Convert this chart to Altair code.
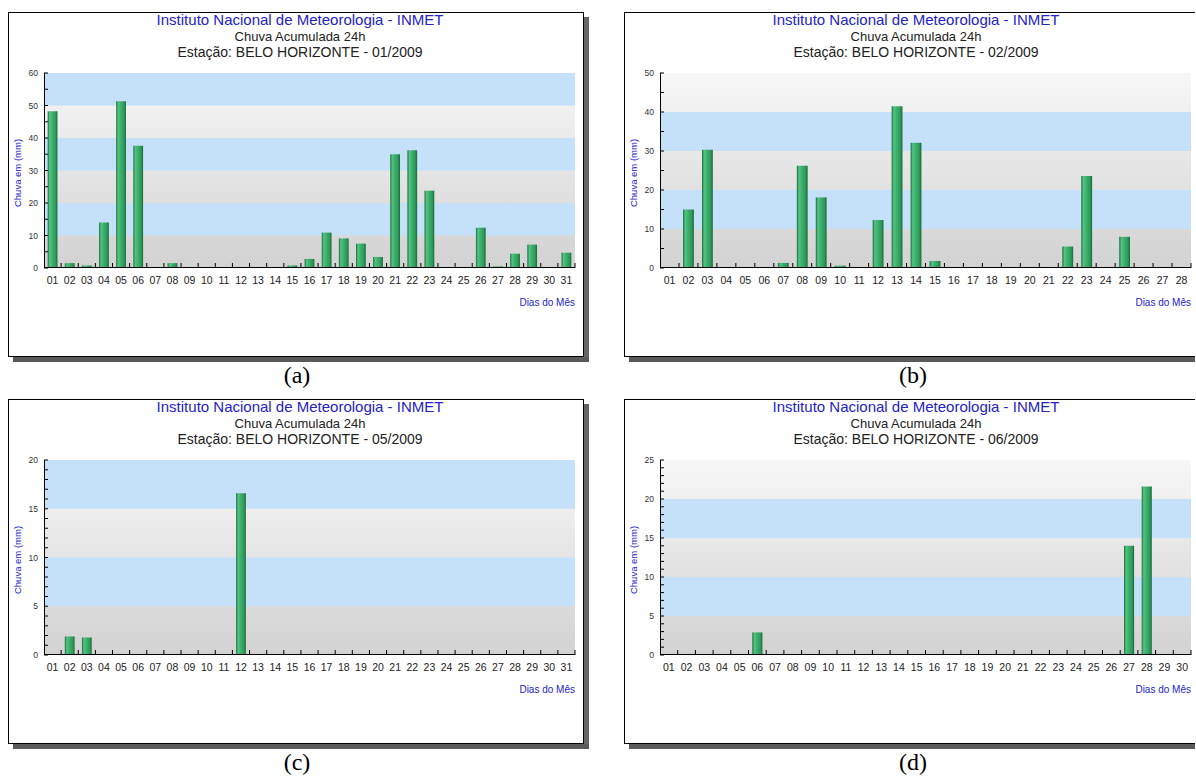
import altair as alt
import pandas as pd

# ---------------- data ----------------
DAYS_31 = ["01", "02", "03", "04", "05", "06", "07", "08", "09", "10", "11", "12", "13", "14", "15", "16",
           "17", "18", "19", "20", "21", "22", "23", "24", "25", "26", "27", "28", "29", "30", "31"]
DAYS_28 = DAYS_31[:28]
DAYS_30 = DAYS_31[:30]

JAN = [48.2, 1.5, 0.8, 14.0, 51.3, 37.6, 0, 1.5, 0, 0, 0, 0, 0, 0, 0.8, 2.8,
       10.9, 9.1, 7.5, 3.4, 35.0, 36.2, 23.8, 0, 0, 12.4, 0.5, 4.4, 7.2, 0, 4.7]
FEB = [0, 15.0, 30.3, 0, 0, 0, 1.3, 26.2, 18.1, 0.6, 0, 12.3, 41.5, 32.1, 1.8, 0,
       0, 0, 0, 0, 0, 5.5, 23.6, 0, 8.0, 0, 0, 0]
MAY = [0, 1.9, 1.8, 0, 0, 0, 0, 0, 0, 0, 0, 16.6, 0, 0, 0, 0,
       0, 0, 0, 0, 0, 0, 0, 0, 0, 0, 0, 0, 0, 0, 0]
JUN = [0, 0, 0, 0, 0, 2.9, 0, 0, 0, 0, 0, 0, 0, 0, 0, 0,
       0, 0, 0, 0, 0, 0, 0, 0, 0, 0, 14.0, 21.6, 0, 0]

STATION_LINES = ["Estação: BELO HORIZONTE - 01/2009", "Estação: BELO HORIZONTE - 02/2009",
                 "Estação: BELO HORIZONTE - 05/2009", "Estação: BELO HORIZONTE - 06/2009"]
TAGS = ["(a)", "(b)", "(c)", "(d)"]
Y_MAX = [60, 50, 20, 25]
Y_LABELS = [[0, 10, 20, 30, 40, 50, 60], [0, 10, 20, 30, 40, 50],
            [0, 5, 10, 15, 20], [0, 5, 10, 15, 20, 25]]
Y_TICKS = [[0, 5, 10, 15, 20, 25, 30, 35, 40, 45, 50, 55, 60],
           [0, 5, 10, 15, 20, 25, 30, 35, 40, 45, 50],
           [0, 1, 2, 3, 4, 5, 6, 7, 8, 9, 10, 11, 12, 13, 14, 15, 16, 17, 18, 19, 20],
           [0, 1, 2, 3, 4, 5, 6, 7, 8, 9, 10, 11, 12, 13, 14, 15, 16, 17, 18, 19, 20,
            21, 22, 23, 24, 25]]
BLUE_LO = [[10, 30, 50], [10, 30], [5, 15], [5, 15]]
BLUE_HI = [[20, 40, 60], [20, 40], [10, 20], [10, 20]]

TITLE1 = "Instituto Nacional de Meteorologia - INMET"
TITLE2 = "Chuva Acumulada 24h"
Y_TITLE = "Chuva em (mm)"
X_TITLE = "Dias do Mês"

W, H = 531, 195
SANS = "Liberation Sans"
SERIF = "Liberation Serif"
BLUE_TXT = "#2323c8"

bar_grad = alt.Gradient(
    gradient="linear", x1=0, x2=1, y1=0, y2=0,
    stops=[alt.GradientStop(color="#1d6b3c", offset=0),
           alt.GradientStop(color="#52c483", offset=0.2),
           alt.GradientStop(color="#3fb06e", offset=0.45),
           alt.GradientStop(color="#2c9a58", offset=0.8),
           alt.GradientStop(color="#1b663a", offset=1)])
bg_grad = alt.Gradient(
    gradient="linear", x1=0, x2=0, y1=0, y2=1,
    stops=[alt.GradientStop(color="#f7f7f7", offset=0),
           alt.GradientStop(color="#d2d2d2", offset=1)])


def one_row():
    return pd.DataFrame({"k": [0]})


def text_layer(s, x, y, size, color, font=SANS, align="center", angle=0):
    return alt.Chart(pd.DataFrame({"s": [s]})).mark_text(
        fontSize=size, color=color, font=font, align=align, baseline="middle", angle=angle
    ).encode(text="s:N", x=alt.value(x), y=alt.value(y))


def rule_layer(x, x2, y, y2, color="#000000"):
    return alt.Chart(one_row()).mark_rule(color=color, strokeWidth=1).encode(
        x=alt.value(x), x2=alt.value(x2), y=alt.value(y), y2=alt.value(y2))


def rect_layer(x, x2, y, y2, fill, opacity=1):
    return alt.Chart(one_row()).mark_rect(fill=fill, opacity=opacity).encode(
        x=alt.value(x), x2=alt.value(x2), y=alt.value(y), y2=alt.value(y2))


def panel(idx, days, vals, left_col, first):
    ymax = Y_MAX[idx]
    xs = alt.Scale(type="band", domain=days, paddingInner=0, paddingOuter=0)
    ys = alt.Scale(domain=[0, ymax], nice=False, zero=True)
    df = pd.DataFrame({"day": days, "mm": vals})
    layers = []
    if first:
        # invisible canvas-size rect fixing the page extent
        layers.append(rect_layer(-44, 1152, -73, 710, "#ffffff", opacity=0))
    fl, ft, fb = -36, -61, 284
    fr = 540 if left_col else 535
    # drop shadow (right + bottom strips)
    if left_col:
        layers.append(rect_layer(fr, fr + 5, ft + 5, fb + 5, "#666666"))
        layers.append(rect_layer(fl + 5, fr + 5, fb, fb + 5, "#5a5a5a"))
    else:
        layers.append(rect_layer(fl + 5, fr, fb, fb + 5, "#5a5a5a"))
    # frame
    layers.append(rule_layer(fl, fr, ft + 0.5, ft + 0.5))
    layers.append(rule_layer(fl, fr, fb - 0.5, fb - 0.5))
    layers.append(rule_layer(fl + 0.5, fl + 0.5, ft, fb))
    if left_col:
        layers.append(rule_layer(fr - 0.5, fr - 0.5, ft, fb))
    # plot background
    layers.append(alt.Chart(one_row()).mark_rect(fill=bg_grad).encode(
        x=alt.value(0), x2=alt.value(W),
        y=alt.Y("lo:Q", scale=ys, axis=None), y2="hi:Q"
    ).transform_calculate(lo="0", hi=str(ymax)))
    bands = pd.DataFrame({"lo": BLUE_LO[idx], "hi": BLUE_HI[idx]})
    layers.append(alt.Chart(bands).mark_rect(fill="#c5e1fa").encode(
        x=alt.value(0), x2=alt.value(W),
        y=alt.Y("lo:Q", scale=ys, axis=None), y2="hi:Q"))
    # bars
    layers.append(alt.Chart(df).transform_filter("datum.mm > 0").mark_bar(
        fill=bar_grad, width=alt.RelativeBandSize(0.57)
    ).encode(
        x=alt.X("day:O", scale=xs, sort=days, axis=None),
        y=alt.Y("mm:Q", scale=ys, axis=None)))
    # axis lines
    layers.append(rule_layer(0.5, 0.5, 0, H))
    layers.append(rule_layer(0, W, H - 0.5, H - 0.5))
    # x ticks (at band boundaries, pointing up)
    layers.append(alt.Chart(df).mark_rule(color="#000000", strokeWidth=1).encode(
        x=alt.X("day:O", scale=xs, sort=days, bandPosition=1, axis=None),
        y=alt.value(H), y2=alt.value(H - 5)))
    # y ticks (pointing inward)
    layers.append(alt.Chart(pd.DataFrame({"t": Y_TICKS[idx]})).mark_rule(
        color="#000000", strokeWidth=1
    ).encode(y=alt.Y("t:Q", scale=ys, axis=None), x=alt.value(0), x2=alt.value(4)))
    # x tick labels (day numbers) placed through the band scale
    layers.append(alt.Chart(df).mark_text(
        font=SANS, fontSize=10.5, color="#222222", align="center", baseline="middle"
    ).encode(x=alt.X("day:O", scale=xs, sort=days, bandPosition=0.5, axis=None),
             y=alt.value(H + 13), text="day:N"))
    # y tick labels placed through the linear scale
    layers.append(alt.Chart(pd.DataFrame({"v": Y_LABELS[idx]})).mark_text(
        font=SANS, fontSize=8.5, color="#333333", align="right", baseline="middle"
    ).encode(y=alt.Y("v:Q", scale=ys, axis=None), x=alt.value(-6), text="v:Q"))
    # texts
    cx = 256
    layers.append(text_layer(TITLE1, cx, -53, 15, BLUE_TXT))
    layers.append(text_layer(TITLE2, cx, -36, 13, "#222222"))
    layers.append(text_layer(STATION_LINES[idx], cx, -20, 14, "#222222"))
    layers.append(text_layer(Y_TITLE, -26, 100, 9.5, BLUE_TXT, angle=270))
    layers.append(text_layer(X_TITLE, W, H + 35, 10, BLUE_TXT, align="right"))
    layers.append(text_layer(TAGS[idx], 253, 303, 24, "#000000", font=SERIF))
    return alt.layer(*layers).properties(width=W, height=H)


pa = panel(0, DAYS_31, JAN, True, True)
pb = panel(1, DAYS_28, FEB, False, False)
pc = panel(2, DAYS_31, MAY, True, False)
pdd = panel(3, DAYS_30, JUN, False, False)

chart = alt.concat(pa, pb, pc, pdd, columns=2, spacing={"row": 192, "column": 85},
                   bounds="flush").properties(padding=0).configure_view(strokeWidth=0)

chart.save("out.html", embed_options={"renderer": "svg", "actions": False})
